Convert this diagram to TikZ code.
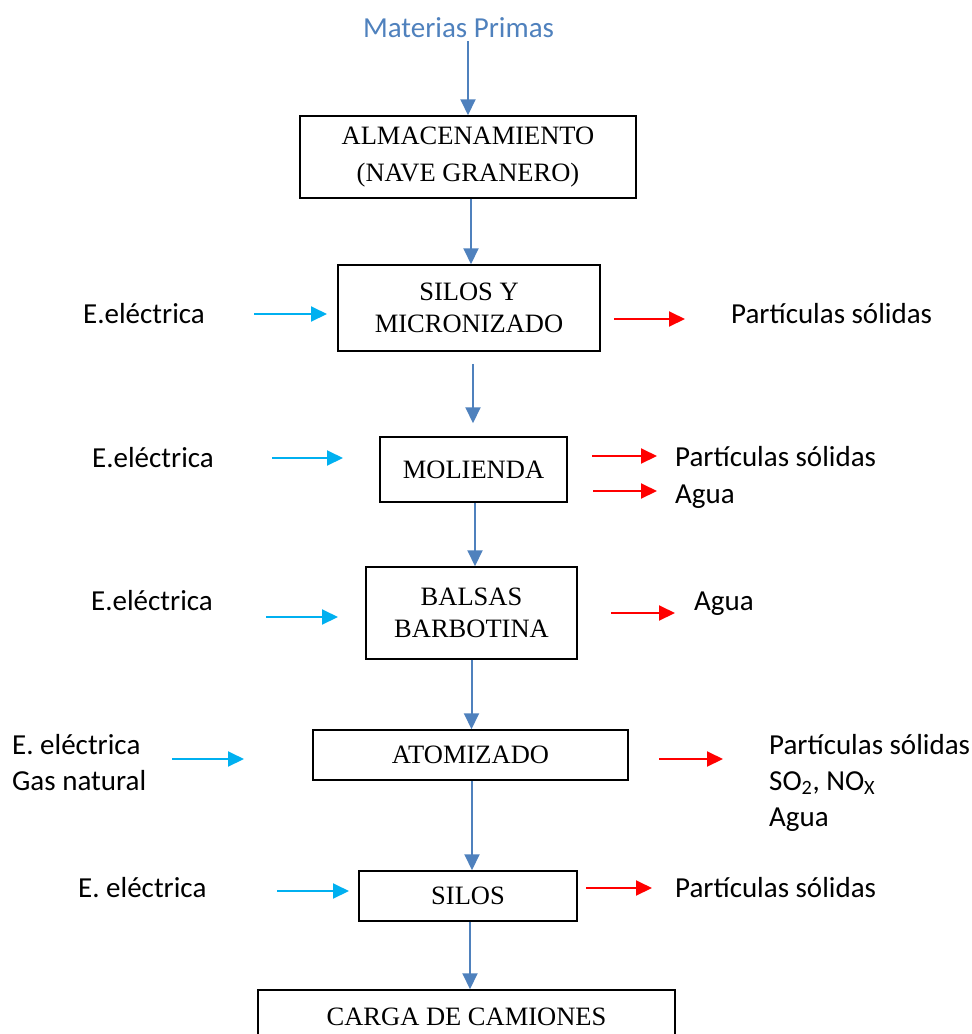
\documentclass[tikz,border=0pt]{standalone}
\usepackage{fontspec}
\setmainfont{Liberation Serif}
\newfontfamily\calibri{Carlito}
\usetikzlibrary{arrows.meta}
\definecolor{flowblue}{HTML}{4F81BD}
\definecolor{inblue}{HTML}{00B0F0}
\definecolor{outred}{HTML}{FF0000}
\tikzset{
  stage/.style={draw,line width=1.5pt,inner sep=0pt,align=center,font=\fontsize{26.5}{32}\selectfont},
  lbl/.style={anchor=base west,inner sep=0pt,align=left,font=\calibri\fontsize{29}{36}\selectfont},
  flow/.style={-{Triangle[length=16pt,width=15pt]},line width=2pt,color=flowblue},
  inflow/.style={-{Triangle[length=16pt,width=15pt]},line width=2pt,color=inblue},
  outflow/.style={-{Triangle[length=16pt,width=15pt]},line width=2pt,color=outred}
}
\begin{document}
\begin{tikzpicture}[line cap=butt,line join=miter,x=1pt,y=-1pt]
\clip (0,0) rectangle (972,1034);
% process stages
\node[anchor=base,inner sep=0pt,text=flowblue,font=\calibri\fontsize{29}{36}\selectfont] (mp) at (458.5,37) {Materias Primas};
\node[stage,minimum width=336pt,minimum height=82pt,font=\fontsize{26.5}{37}\selectfont] (alm) at (468,157) {ALMACENAMIENTO\\(NAVE GRANERO)};
\node[stage,minimum width=262pt,minimum height=86pt] (silmic) at (469,308) {SILOS Y\\MICRONIZADO};
\node[stage,minimum width=187pt,minimum height=65pt] (mol) at (473.5,469.5) {MOLIENDA};
\node[stage,minimum width=211pt,minimum height=92pt] (bal) at (471.5,613) {BALSAS\\BARBOTINA};
\node[stage,minimum width=315pt,minimum height=50pt] (ato) at (470.5,755) {ATOMIZADO};
\node[stage,minimum width=218pt,minimum height=50pt] (sil) at (468,896) {SILOS};
\node[stage,minimum width=417pt,minimum height=54pt] (car) at (466.5,1017) {CARGA DE CAMIONES};
% inputs and outputs
\node[lbl] (el1) at (83,323) {E.eléctrica};
\node[lbl] (ps1) at (731,323) {Partículas sólidas};
\node[lbl] (el2) at (92,467) {E.eléctrica};
\node[lbl] (ps2) at (675,466) {Partículas sólidas};
\node[lbl] (ag2) at (675,503) {Agua};
\node[lbl] (el3) at (91,610) {E.eléctrica};
\node[lbl] (ag3) at (694,610) {Agua};
\node[lbl] (el4) at (12,790) {E. eléctrica\\Gas natural};
\node[lbl] (em4) at (769,826) {Partículas sólidas\\SO\textsubscript{2}, NO\textsubscript{X}\\Agua};
\node[lbl] (el5) at (78,897) {E. eléctrica};
\node[lbl] (ps5) at (675,897) {Partículas sólidas};
% main line
\draw[flow,shorten <=4pt] (mp.south -| alm.north) -- (alm.north);
\draw[flow] ([xshift=3pt]alm.south) -- ([xshift=3pt]alm.south |- silmic.north);
\draw[flow,shorten <=12pt,shorten >=13pt] ([xshift=4pt]silmic.south) -- ([xshift=4pt]silmic.south |- mol.north);
\draw[flow] ([xshift=1.5pt]mol.south) -- ([xshift=1.5pt]mol.south |- bal.north);
\draw[flow] (bal.south) -- (bal.south |- ato.north);
\draw[flow] ([xshift=1.5pt]ato.south) -- ([xshift=1.5pt]ato.south |- sil.north);
\draw[flow] ([xshift=2pt]sil.south) -- ([xshift=2pt]sil.south |- car.north);
% side arrows
\coordinate (in1a) at (254,314); \coordinate (in1b) at (327,314);
\coordinate (out1a) at (614,319); \coordinate (out1b) at (685,319);
\coordinate (in2a) at (272,458); \coordinate (in2b) at (343,458);
\coordinate (out2a) at (592,456); \coordinate (out2b) at (657,456);
\coordinate (out2c) at (593,491); \coordinate (out2d) at (657,491);
\coordinate (in3a) at (266,617); \coordinate (in3b) at (338,617);
\coordinate (out3a) at (611,613); \coordinate (out3b) at (675,613);
\coordinate (in4a) at (172,759); \coordinate (in4b) at (244,759);
\coordinate (out4a) at (659,759); \coordinate (out4b) at (723,759);
\coordinate (in5a) at (277,891); \coordinate (in5b) at (349,891);
\coordinate (out5a) at (586,888); \coordinate (out5b) at (652,888);
\draw[inflow] (in1a) -- (in1b);
\draw[outflow] (out1a) -- (out1b);
\draw[inflow] (in2a) -- (in2b);
\draw[outflow] (out2a) -- (out2b);
\draw[outflow] (out2c) -- (out2d);
\draw[inflow] (in3a) -- (in3b);
\draw[outflow] (out3a) -- (out3b);
\draw[inflow] (in4a) -- (in4b);
\draw[outflow] (out4a) -- (out4b);
\draw[inflow] (in5a) -- (in5b);
\draw[outflow] (out5a) -- (out5b);
\end{tikzpicture}
\end{document}
